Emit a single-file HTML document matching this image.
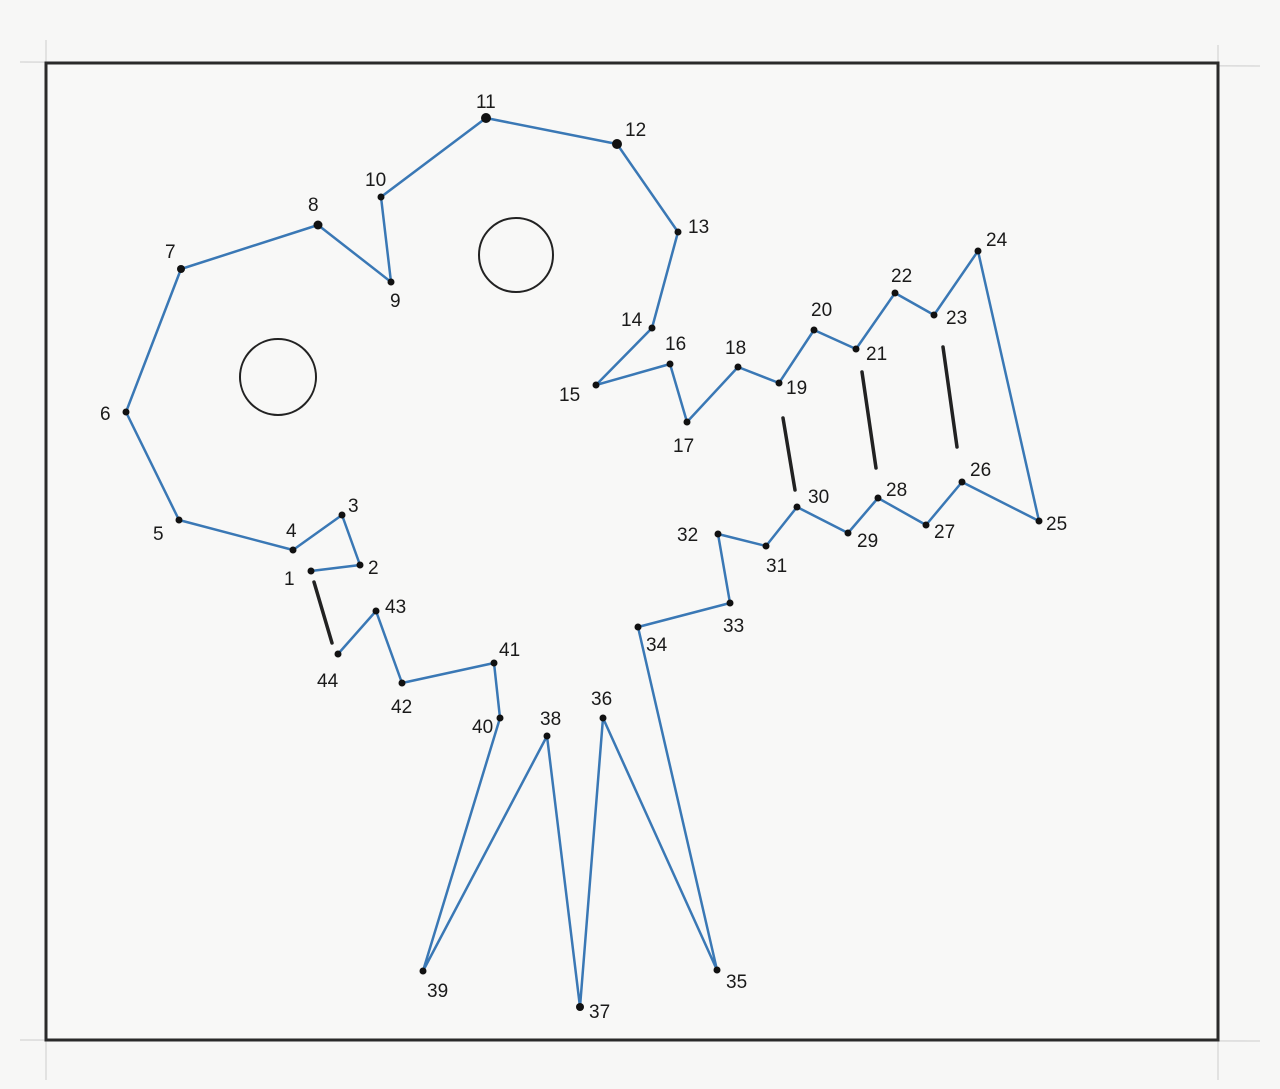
<!DOCTYPE html>
<html><head><meta charset="utf-8"><style>
html,body{margin:0;padding:0;background:#f7f7f6;}
svg{display:block}
text{font-family:"Liberation Sans",sans-serif;font-size:19px;fill:#1a1a1a;}
</style></head><body>
<svg width="1280" height="1089" viewBox="0 0 1280 1089" xmlns="http://www.w3.org/2000/svg">
<rect width="1280" height="1089" fill="#f7f7f6"/>
<g stroke="#ccc" stroke-width="1">
<line x1="20" y1="62" x2="1260" y2="66"/>
<line x1="20" y1="1040" x2="1260" y2="1041"/>
<line x1="46" y1="40" x2="46" y2="1080"/>
<line x1="1218" y1="45" x2="1218" y2="1080"/>
</g>
<rect x="46" y="63" width="1172" height="977" fill="#f8f8f7" stroke="#2a2a2a" stroke-width="3"/>
<circle cx="516" cy="255" r="37" fill="none" stroke="#222" stroke-width="2"/>
<circle cx="278" cy="377" r="38" fill="none" stroke="#222" stroke-width="2"/>
<g stroke="#222" stroke-width="3.5" stroke-linecap="round">
<line x1="314" y1="582" x2="332" y2="643"/>
<line x1="783" y1="418" x2="795" y2="490"/>
<line x1="862" y1="372" x2="876" y2="468"/>
<line x1="943" y1="347" x2="957" y2="447"/>
</g>
<polyline fill="none" stroke="#3a78b5" stroke-width="2.5" stroke-linejoin="round" points="311,571 360,565 342,515 293,550 179,520 126,412 181,269 318,225 391,282 381,197 486,118 617,144 678,232 652,328 596,385 670,364 687,422 738,367 779,383 814,330 856,349 895,293 934,315 978,251 1039,521 962,482 926,525 878,498 848,533 797,507 766,546 718,534 730,603 638,627 717,970 603,718 580,1007 547,736 423,971 500,718 494,663 402,683 376,611 338,654"/>
<g fill="#111">
<circle cx="311" cy="571" r="3.5"/><circle cx="360" cy="565" r="3.5"/><circle cx="342" cy="515" r="3.5"/><circle cx="293" cy="550" r="3.5"/><circle cx="179" cy="520" r="3.5"/><circle cx="126" cy="412" r="3.5"/><circle cx="181" cy="269" r="4"/><circle cx="318" cy="225" r="4.5"/><circle cx="391" cy="282" r="3.5"/><circle cx="381" cy="197" r="3.5"/><circle cx="486" cy="118" r="5"/><circle cx="617" cy="144" r="5"/><circle cx="678" cy="232" r="3.5"/><circle cx="652" cy="328" r="3.5"/><circle cx="596" cy="385" r="3.5"/><circle cx="670" cy="364" r="3.5"/><circle cx="687" cy="422" r="3.5"/><circle cx="738" cy="367" r="3.5"/><circle cx="779" cy="383" r="3.5"/><circle cx="814" cy="330" r="3.5"/><circle cx="856" cy="349" r="3.5"/><circle cx="895" cy="293" r="3.5"/><circle cx="934" cy="315" r="3.5"/><circle cx="978" cy="251" r="3.5"/><circle cx="1039" cy="521" r="3.5"/><circle cx="962" cy="482" r="3.5"/><circle cx="926" cy="525" r="3.5"/><circle cx="878" cy="498" r="3.5"/><circle cx="848" cy="533" r="3.5"/><circle cx="797" cy="507" r="3.5"/><circle cx="766" cy="546" r="3.5"/><circle cx="718" cy="534" r="3.5"/><circle cx="730" cy="603" r="3.5"/><circle cx="638" cy="627" r="3.5"/><circle cx="717" cy="970" r="3.5"/><circle cx="603" cy="718" r="3.5"/><circle cx="580" cy="1007" r="4"/><circle cx="547" cy="736" r="3.5"/><circle cx="423" cy="971" r="3.5"/><circle cx="500" cy="718" r="3.5"/><circle cx="494" cy="663" r="3.5"/><circle cx="402" cy="683" r="3.5"/><circle cx="376" cy="611" r="3.5"/><circle cx="338" cy="654" r="3.5"/>
</g>
<text x="284" y="585">1</text><text x="368" y="574">2</text><text x="348" y="512">3</text><text x="286" y="537">4</text><text x="153" y="540">5</text><text x="100" y="420">6</text><text x="165" y="258">7</text><text x="308" y="211">8</text><text x="390" y="307">9</text><text x="365" y="186">10</text><text x="476" y="108">11</text><text x="625" y="136">12</text><text x="688" y="233">13</text><text x="621" y="326">14</text><text x="559" y="401">15</text><text x="665" y="350">16</text><text x="673" y="452">17</text><text x="725" y="354">18</text><text x="786" y="394">19</text><text x="811" y="316">20</text><text x="866" y="360">21</text><text x="891" y="282">22</text><text x="946" y="324">23</text><text x="986" y="246">24</text><text x="1046" y="530">25</text><text x="970" y="476">26</text><text x="934" y="538">27</text><text x="886" y="496">28</text><text x="857" y="547">29</text><text x="808" y="503">30</text><text x="766" y="572">31</text><text x="677" y="541">32</text><text x="723" y="632">33</text><text x="646" y="651">34</text><text x="726" y="988">35</text><text x="591" y="705">36</text><text x="589" y="1018">37</text><text x="540" y="725">38</text><text x="427" y="997">39</text><text x="472" y="733">40</text><text x="499" y="656">41</text><text x="391" y="713">42</text><text x="385" y="613">43</text><text x="317" y="687">44</text>
</svg>
</body></html>
